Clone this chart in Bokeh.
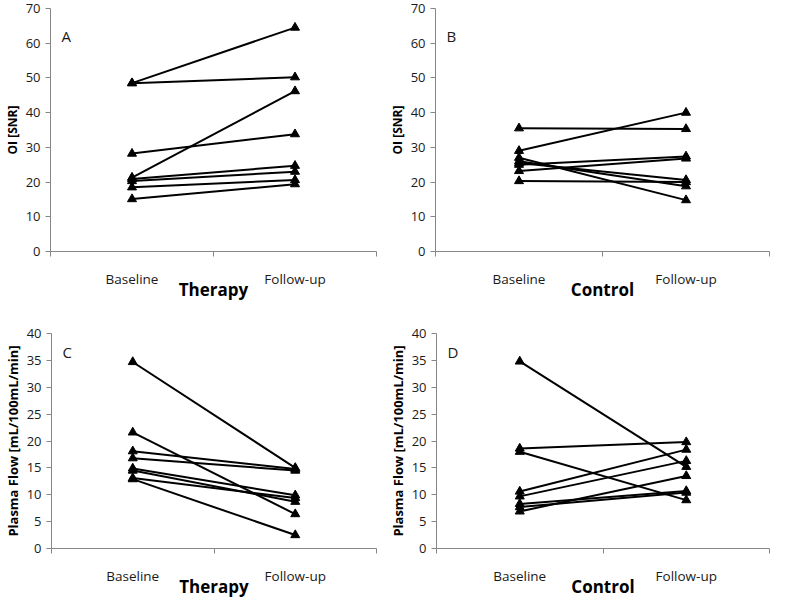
from bokeh.plotting import figure
from bokeh.layouts import column, row
from bokeh.models import Range1d, FixedTicker, Label
from bokeh.embed import file_html
from bokeh.resources import INLINE

categories = ["Baseline", "Follow-up"]
groups = ["Therapy", "Control"]

oi_therapy_baseline = [48.5, 48.5, 21.3, 28.2, 20.9, 20.3, 18.5, 15.1]
oi_therapy_followup = [64.5, 50.2, 46.2, 33.8, 24.7, 23.0, 20.6, 19.4]
oi_control_baseline = [35.5, 29.0, 20.3, 23.2, 25.0, 27.0, 26.0, 25.5]
oi_control_followup = [35.3, 40.0, 20.0, 26.8, 27.4, 14.8, 18.8, 20.6]
pf_therapy_baseline = [34.7, 21.6, 18.1, 16.8, 14.9, 14.5, 13.1, 12.9]
pf_therapy_followup = [15.0, 6.4, 14.8, 14.5, 9.9, 8.7, 9.4, 2.5]
pf_control_baseline = [34.8, 18.6, 18.0, 10.6, 9.7, 8.3, 7.7, 6.9]
pf_control_followup = [15.2, 19.8, 9.0, 18.4, 16.3, 10.7, 10.4, 13.5]

oi_ticks = [0, 10, 20, 30, 40, 50, 60, 70]
pf_ticks = [0, 5, 10, 15, 20, 25, 30, 35, 40]

FONT = "Open Sans"
AXIS_COLOR = "#868686"


def panel(base, fu, letter, ylabel, ylabel_size, yticks, group, w, h, bl, br, bt, bb, letter_frac):
    p = figure(width=w, height=h, output_backend="svg", toolbar_location=None,
               x_range=Range1d(0, len(categories)),
               y_range=Range1d(yticks[0], yticks[-1]),
               min_border_left=bl, min_border_right=br,
               min_border_top=bt, min_border_bottom=bb)
    p.outline_line_color = None
    p.xgrid.visible = False
    p.ygrid.visible = False

    xb = categories.index("Baseline") + 0.5
    xf = categories.index("Follow-up") + 0.5
    xs = [[xb, xf] for _ in base]
    ys = [[b, f] for b, f in zip(base, fu)]
    p.multi_line(xs, ys, line_color="black", line_width=2)
    p.scatter([xb] * len(base) + [xf] * len(fu), list(base) + list(fu),
              marker="triangle", size=9, color="black")

    # x axis: Excel-style separator ticks, labels centred in categories
    xa = p.xaxis[0]
    centers = [i + 0.5 for i in range(len(categories))]
    bounds = list(range(len(categories) + 1))
    xa.ticker = FixedTicker(ticks=centers, minor_ticks=bounds)
    xa.major_label_overrides = {c: lab for c, lab in zip(centers, categories)}
    xa.major_tick_out = 0
    xa.major_tick_in = 0
    xa.minor_tick_out = 5
    xa.minor_tick_in = 0
    xa.minor_tick_line_color = AXIS_COLOR
    xa.axis_line_color = AXIS_COLOR
    xa.major_label_standoff = 13
    xa.major_label_text_font = FONT
    xa.major_label_text_font_size = "13.5px"
    xa.major_label_text_color = "#1a1a1a"
    xa.axis_label = group
    xa.axis_label_text_font = FONT
    xa.axis_label_text_font_size = "17px"
    xa.axis_label_text_font_style = "bold"
    xa.axis_label_text_color = "black"
    xa.axis_label_standoff = -13

    ya = p.yaxis[0]
    ya.ticker = FixedTicker(ticks=yticks, minor_ticks=[])
    ya.major_tick_out = 5
    ya.major_tick_in = 0
    ya.major_tick_line_color = AXIS_COLOR
    ya.axis_line_color = AXIS_COLOR
    ya.major_label_standoff = 5
    ya.major_label_text_font = FONT
    ya.major_label_text_font_size = "13px"
    ya.major_label_text_color = "#1a1a1a"
    ya.axis_label = ylabel
    ya.axis_label_text_font = FONT
    ya.axis_label_text_font_style = "bold"
    ya.axis_label_text_font_size = ylabel_size
    ya.axis_label_text_color = "black"
    ya.axis_label_standoff = 2

    p.add_layout(Label(x=11, x_units="screen", y=yticks[-1] * letter_frac,
                       text=letter, text_font=FONT, text_font_size="15px",
                       text_baseline="top", text_color="#1a1a1a"))
    return p


pA = panel(oi_therapy_baseline, oi_therapy_followup, "A", "OI [SNR]", "12px", oi_ticks,
           groups[0], 385, 303, 41, 9, 8, 50, 0.93)
pB = panel(oi_control_baseline, oi_control_followup, "B", "OI [SNR]", "12px", oi_ticks,
           groups[1], 386, 303, 46, 2, 8, 50, 0.93)
pC = panel(pf_therapy_baseline, pf_therapy_followup, "C", "Plasma Flow [mL/100mL/min]", "13px",
           pf_ticks, groups[0], 385, 297, 39, 9, 30, 50, 0.96)
pD = panel(pf_control_baseline, pf_control_followup, "D", "Plasma Flow [mL/100mL/min]", "13px",
           pf_ticks, groups[1], 386, 297, 44, 2, 30, 50, 0.96)

layout = column(row(pA, pB), row(pC, pD))
open("out.html", "w").write(file_html(layout, INLINE))
